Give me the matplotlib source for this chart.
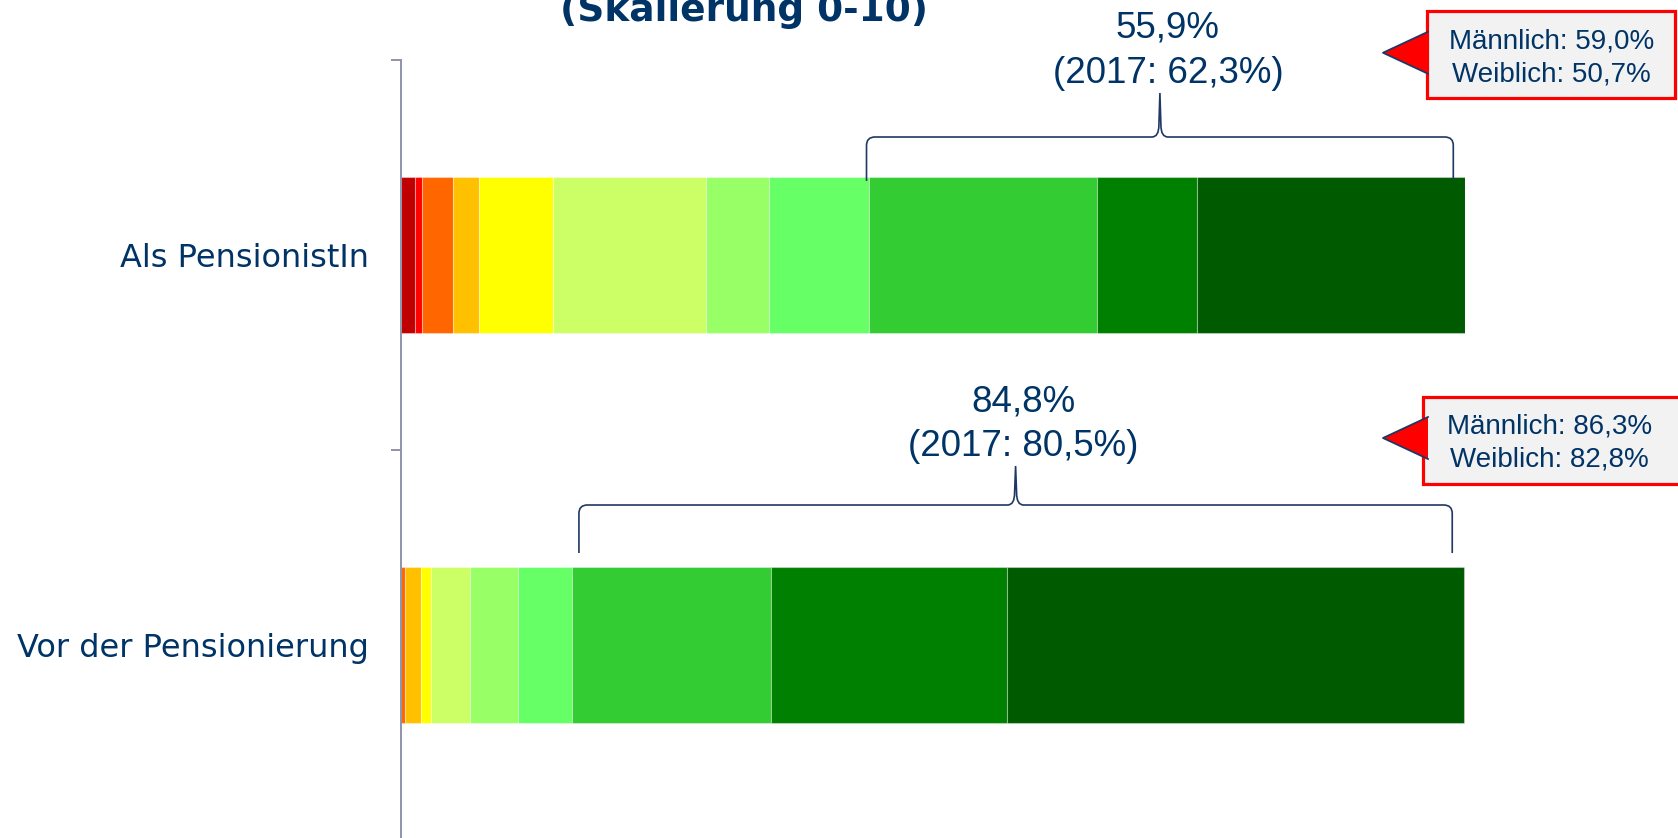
import matplotlib
matplotlib.use('Agg')
import numpy as np
import matplotlib.pyplot as plt
from matplotlib.path import Path
from matplotlib.patches import PathPatch, Rectangle, Polygon

# Daten (Skalierung 0-10), Anteile in %
categories = ['Vor der Pensionierung', 'Als PensionistIn']
scale_points = ['0', '1', '2', '3', '4', '5', '6', '7', '8', '9', '10']
vor_pensionierung = [0.0, 0.0, 0.4, 1.5, 1.0, 3.6, 4.5, 5.1, 18.7, 22.2, 42.9]
als_pensionist = [1.4, 0.6, 2.9, 2.5, 6.9, 14.4, 5.9, 9.4, 21.4, 9.4, 25.2]
top_share = ['84,8%', '55,9%']
share_2017 = ['80,5%', '62,3%']
maennlich = ['86,3%', '59,0%']
weiblich = ['82,8%', '50,7%']

colors = ['#c00000', '#ff0000', '#ff6600', '#ffc000', '#ffff00', '#ccff66',
          '#99ff66', '#66ff66', '#33cc33', '#008000', '#005a00']
navy = '#003366'
W, H = 1678, 838


def main():
    fig = plt.figure(figsize=(W / 100, H / 100), dpi=100)
    ax = fig.add_axes([400.5 / W, -2 / H, 1064.8 / W, 780 / H])

    data = np.array([vor_pensionierung, als_pensionist])
    ypos = np.array([0.5, 1.5])
    lefts = np.zeros(len(categories))
    for i in range(len(scale_points)):
        ax.barh(ypos, data[:, i], left=lefts, height=0.4, color=colors[i],
                edgecolor=(1, 1, 1, 0.35), linewidth=0.8, label=scale_points[i])
        lefts = lefts + data[:, i]

    ax.set_xlim(0, 100)
    ax.set_ylim(0, 2)
    ax.set_xticks([])
    for s in ['top', 'right', 'bottom']:
        ax.spines[s].set_visible(False)
    ax.spines['left'].set_color('#8f94aa')
    ax.spines['left'].set_linewidth(1.4)
    ax.set_yticks([0, 1, 2])
    ax.set_yticklabels([])
    ax.tick_params(axis='y', which='major', length=7.2, width=1.4, color='#8f94aa')
    ax.set_yticks(ypos, minor=True)
    ax.set_yticklabels(categories, minor=True, fontsize=23, color=navy,
                       family='DejaVu Sans')
    ax.tick_params(axis='y', which='minor', length=0, pad=23)

    # Overlay in Pixelkoordinaten fuer Klammern und Kaesten
    ov = fig.add_axes([0, 0, 1, 1], zorder=5)
    ov.set_xlim(0, W)
    ov.set_ylim(H, 0)
    ov.axis('off')
    ov.patch.set_alpha(0)

    def to_px(x):
        return ax.transData.transform((x, 0))[0]

    ov.text(744, 21, '(Skalierung 0-10)', ha='center', va='baseline', fontsize=27,
            fontweight='bold', color=navy, family='DejaVu Sans')

    # Klammern ueber 8-10
    start_off = [7, -2.5]
    y_end = [553, 181]
    y_line = [505, 137]
    y_tip = [466, 93]
    for k in range(len(categories)):
        x0 = to_px(data[k, :8].sum()) + start_off[k]
        x1 = to_px(data[k].sum()) - 12
        xm = (x0 + x1) / 2
        r = 8.5
        yl, ye, yt = y_line[k], y_end[k], y_tip[k]
        verts = [(x0, ye), (x0, yl + r), (x0, yl), (x0 + r, yl),
                 (xm - 8, yl), (xm - 1, yl), (xm - 1, yl - 12), (xm, yt),
                 (xm + 1, yl - 12), (xm + 1, yl), (xm + 8, yl),
                 (x1 - r, yl), (x1, yl), (x1, yl + r), (x1, ye)]
        codes = [Path.MOVETO, Path.LINETO, Path.CURVE3, Path.CURVE3,
                 Path.LINETO, Path.CURVE3, Path.CURVE3, Path.LINETO,
                 Path.LINETO, Path.CURVE3, Path.CURVE3,
                 Path.LINETO, Path.CURVE3, Path.CURVE3, Path.LINETO]
        ov.add_patch(PathPatch(Path(verts, codes), facecolor='none',
                               edgecolor='#1f3864', lw=1.2))
        b2 = yt - 10
        ov.text(xm + 8, b2 - 45, top_share[k], ha='center', va='baseline',
                fontsize=26.5, color=navy, family='Liberation Sans')
        ov.text(xm + 8, b2, '(2017: ' + share_2017[k] + ')', ha='center',
                va='baseline', fontsize=26.5, color=navy, family='Liberation Sans')

    # Kaesten Maennlich / Weiblich
    box_left = [1422.5, 1426.5]
    box_right = [1700, 1675]
    box_top = [396.5, 11.5]
    box_bottom = [483.5, 98]
    for k in range(len(categories)):
        ov.add_patch(Rectangle((box_left[k], box_top[k]), box_right[k] - box_left[k],
                               box_bottom[k] - box_top[k], facecolor='#f2f2f2',
                               edgecolor='#ff0000', lw=2.3, clip_on=False))
        ym = (box_top[k] + box_bottom[k]) / 2 - 2
        tri = [(1383, ym), (1428, ym - 21), (1428, ym + 21)]
        ov.add_patch(Polygon(tri, closed=True, facecolor='#ff0000', edgecolor='none'))
        ov.plot([1428, 1383, 1428], [ym - 21, ym, ym + 21], color='#1f3864', lw=1.3)
        xc = (box_left[k] + 1675) / 2 + 1
        ov.text(xc, box_top[k] + 36.7, 'Männlich: ' + maennlich[k], ha='center',
                va='baseline', fontsize=20, color=navy, family='Liberation Sans')
        ov.text(xc, box_top[k] + 70, 'Weiblich: ' + weiblich[k], ha='center',
                va='baseline', fontsize=20, color=navy, family='Liberation Sans')

    return fig


if __name__ == "__main__":
    fig = main()
    fig.savefig('out.png', dpi=100)
